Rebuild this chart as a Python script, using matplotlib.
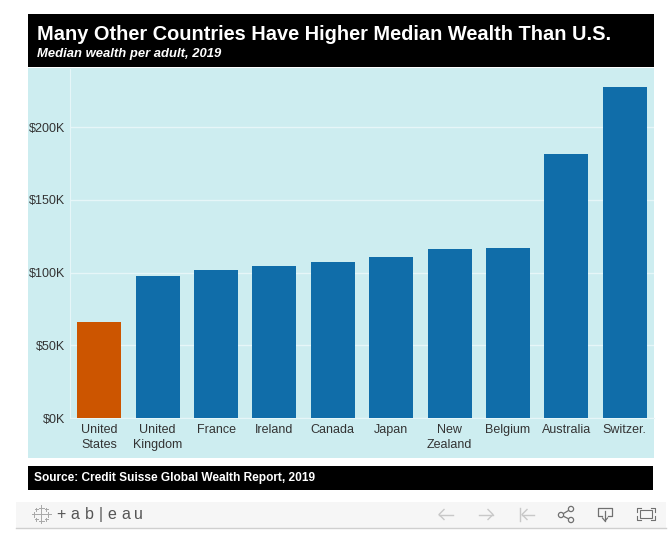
import matplotlib
matplotlib.use("Agg")
from matplotlib import pyplot as plt
from matplotlib.patches import Rectangle, Circle

plt.rcParams['font.family'] = ['Liberation Sans', 'DejaVu Sans']

countries = ['United\nStates', 'United\nKingdom', 'France', 'Ireland', 'Canada',
             'Japan', 'New\nZealand', 'Belgium', 'Australia', 'Switzer.']
wealth = [66, 97.6, 101.7, 104.5, 107.2, 110.6, 116.2, 116.8, 181.4, 227.5]
tick_vals = [0, 50, 100, 150, 200]
tick_labels = ['$0K', '$50K', '$100K', '$150K', '$200K']

W, H = 672, 541
BG = '#CDEDF0'
BLUE = '#106DA9'
ORANGE = '#CC5500'
TXT = '#333333'

fig = plt.figure(figsize=(W / 100, H / 100), dpi=100, facecolor='white')

# page furniture, in pixels from the top left
page = fig.add_axes([0, 0, 1, 1])
page.set_xlim(0, W)
page.set_ylim(H, 0)
page.axis('off')

page.add_patch(Rectangle((28, 14), 626, 53, color='black', lw=0))
page.add_patch(Rectangle((28, 68), 626, 390, color=BG, lw=0))
page.add_patch(Rectangle((28, 466), 625, 24, color='black', lw=0))
page.add_patch(Rectangle((16, 502), 650, 26, color='#F6F6F6', lw=0))
page.plot([16, 666], [528, 528], color='#CFCFCF', lw=1)

page.text(37, 34.5, 'Many Other Countries Have Higher Median Wealth Than U.S.',
          color='white', fontsize=14.4, fontweight='bold', va='center')
page.text(37, 53.5, 'Median wealth per adult, 2019', color='white', fontsize=9.4,
          fontweight='bold', fontstyle='italic', va='center')
page.text(34, 478, 'Source: Credit Suisse Global Wealth Report, 2019', color='white',
          fontsize=8.55, fontweight='bold', va='center')

# tableau logo
for x, y, s in [(41, 514, 4), (34, 514, 2.5), (48, 514, 2.5), (41, 507.5, 2.5),
                (41, 520.5, 2.5), (36, 509, 1.5), (46, 509, 1.5), (36, 519, 1.5), (46, 519, 1.5)]:
    page.plot([x - s, x + s], [y, y], color='#A8A8A8', lw=0.7)
    page.plot([x, x], [y - s, y + s], color='#A8A8A8', lw=0.7)
for x, ch in zip([61, 75, 89, 100.5, 111.5, 125.5, 138], ['+', 'a', 'b', '|', 'e', 'a', 'u']):
    page.text(x, 514.5, ch, color='#555555', fontsize=11.5, ha='center', va='center')

# toolbar icons
GREY = '#C8C8C8'
DARK = '#707070'
page.plot([439, 453], [514.5, 514.5], color=GREY, lw=1)
page.plot([444, 439, 444], [509.5, 514.5, 519.5], color=GREY, lw=1)
page.plot([479, 493], [514.5, 514.5], color=GREY, lw=1)
page.plot([488, 493, 488], [509.5, 514.5, 519.5], color=GREY, lw=1)
page.plot([520, 520], [508, 521], color=GREY, lw=1)
page.plot([522, 534], [514.5, 514.5], color=GREY, lw=1)
page.plot([527, 522, 527], [509.5, 514.5, 519.5], color=GREY, lw=1)
page.plot([571, 561, 571], [509, 515, 520], color=DARK, lw=0.9)
for cx, cy in [(571, 509), (561, 515), (571, 520)]:
    page.add_patch(Circle((cx, cy), 2.6, fc='#F6F6F6', ec=DARK, lw=0.9, zorder=3))
page.plot([602, 598, 598, 612, 612, 608], [516, 516, 508, 508, 516, 516], color=DARK, lw=0.9)
page.plot([605, 605], [511, 521], color=DARK, lw=0.9)
page.plot([602.5, 605, 607.5], [518, 521, 518], color=DARK, lw=0.9)
page.add_patch(Rectangle((640, 510), 12, 8, fc='none', ec=DARK, lw=0.8))
for xs, ys in [([637, 637, 641], [512, 508, 508]), ([651, 655, 655], [508, 508, 512]),
               ([637, 637, 641], [516, 520, 520]), ([651, 655, 655], [520, 520, 516])]:
    page.plot(xs, ys, color=DARK, lw=0.8)

# the chart itself
x0, x1, ytop, ybot = 70, 654, 69, 418
ax = fig.add_axes([x0 / W, 1 - ybot / H, (x1 - x0) / W, (ybot - ytop) / H])
ax.patch.set_alpha(0)
colors = [ORANGE] + [BLUE] * (len(wealth) - 1)
ax.bar(range(len(wealth)), wealth, width=0.755, color=colors, zorder=3)
ax.set_xlim(-0.5, 9.5)
ax.set_ylim(0, (ybot - ytop) / 1.455)
ax.set_yticks(tick_vals)
ax.set_yticklabels(tick_labels)
ax.set_xticks(range(len(countries)))
ax.set_xticklabels(countries, linespacing=1.3)
ax.tick_params(length=0, labelsize=9, labelcolor=TXT)
ax.tick_params(axis='y', pad=3.5)
ax.tick_params(axis='x', pad=4.5)
ax.grid(axis='y', color='#E6F6F8', lw=1, zorder=1)
for s in ['top', 'right']:
    ax.spines[s].set_visible(False)
ax.spines['left'].set_color('#E6F6F8')
ax.spines['bottom'].set_color('#E6F6F8')

fig.savefig('out.png', dpi=100)
